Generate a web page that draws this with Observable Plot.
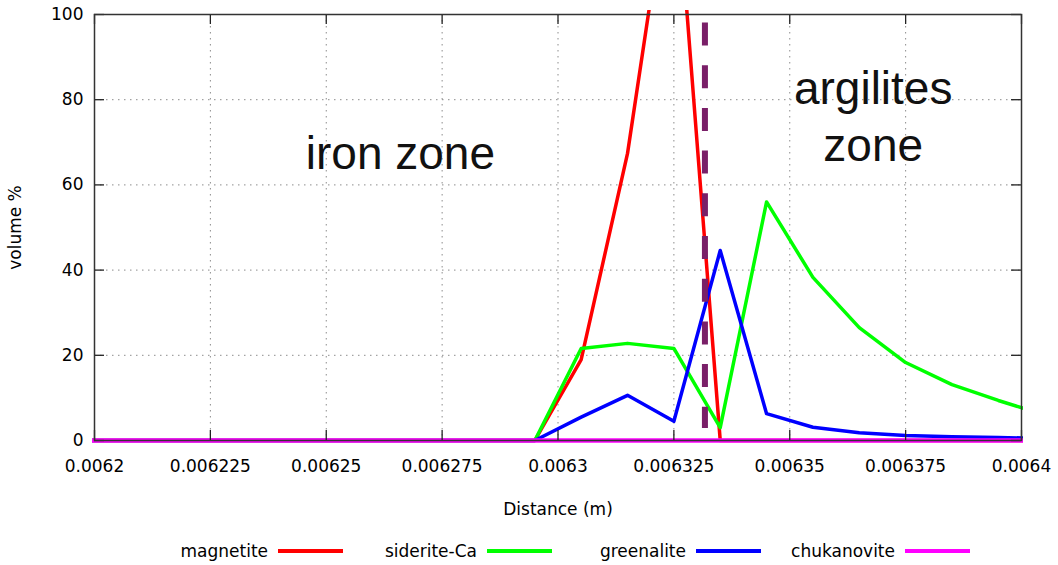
<!DOCTYPE html>
<html><head><meta charset="utf-8">
<script src="https://cdn.jsdelivr.net/npm/d3@7"></script>
<script src="https://cdn.jsdelivr.net/npm/@observablehq/plot@0.6"></script>
<style>
body{margin:0;background:#fff;font-family:"DejaVu Sans",sans-serif;}
#chart svg{display:block}
#legend{position:relative;height:35px;width:1058px;font-size:17px;color:#000}
.entry{position:absolute;top:10px;height:22px;display:flex;align-items:center}
.entry .lab{width:134px;text-align:right;white-space:nowrap}
.entry .swatch{width:65px;height:4px;margin-left:10px}
</style></head><body>
<div id="chart"></div>
<div id="legend"></div>
<script>
// Data
const distance = [0.006195,0.006205,0.006215,0.006225,0.006235,0.006245,0.006255,0.006265,0.006275,0.006285,
                  0.006295,0.006305,0.006315,0.006325,0.006335,0.006345,0.006355,0.006365,0.006375,0.006385,0.006395,0.006405];
const magnetite   = [0,0,0,0,0,0,0,0,0,0, 0,19,67.4,140,0,0,0,0,0,0,0,0];
const sideriteCa  = [0,0,0,0,0,0,0,0,0,0, 0,21.6,22.8,21.6,3,56,38.3,26.5,18.3,13.1,9.4,6.0];
const greenalite  = [0,0,0,0,0,0,0,0,0,0, 0,5.5,10.6,4.5,44.6,6.3,3.1,1.8,1.2,0.9,0.7,0.5];
const chukanovite = [0,0,0,0,0,0,0,0,0,0, 0,0,0,0,0,0,0,0,0,0,0,0];

const seriesNames  = ["magnetite","siderite-Ca","greenalite","chukanovite"];
const seriesColors = ["#ff0000","#00ff00","#0000ff","#ff00ff"];
const seriesWidths = [3.5, 3.5, 3.5, 4.5];
const seriesValues = [magnetite, sideriteCa, greenalite, chukanovite];

const xTicks = [0.0062,0.006225,0.00625,0.006275,0.0063,0.006325,0.00635,0.006375,0.0064];
const xTickLabels = ["0.0062","0.006225","0.00625","0.006275","0.0063","0.006325","0.00635","0.006375","0.0064"];
const yTicks = [0,20,40,60,80,100];
const xDomain = [0.0062, 0.0064];
const yDomain = [0, 100];

const boundaryX = [0.0063317];
const boundaryY = [98, 2.8];

const zoneLabels = [
  {text:"iron zone", x:0.006266, y:68},
  {text:"argilites\nzone", x:0.006368, y:76.5}
];
const xLabel = "Distance (m)";
const yLabel = "volume %";

const W = 1058, H = 530, mL = 94, mR = 37, mT = 14, mB = 90;
const frameW = W - mL - mR, frameH = H - mT - mB;
const tickLen = 10;
const gridStyle = {stroke:"#8c8c8c", strokeOpacity:1, strokeWidth:1, strokeDasharray:"1.5,4.5"};

const lineMarks = seriesNames.map((name, s) => Plot.line(
  distance.map((d, i) => ({distance: d, value: seriesValues[s][i]})),
  {x: "distance", y: "value", stroke: seriesColors[s], strokeWidth: seriesWidths[s], clip: true}
));

const plot = Plot.plot({
  width: W, height: H,
  marginLeft: mL, marginRight: mR, marginTop: mT, marginBottom: mB,
  style: {fontFamily: "DejaVu Sans, sans-serif", fontSize: "17px", color: "#000", background: "#fff"},
  x: {domain: xDomain},
  y: {domain: yDomain},
  marks: [
    Plot.gridX(xTicks.slice(1, -1), gridStyle),
    Plot.gridY(yTicks.slice(1, -1), gridStyle),
    Plot.axisX(xTicks, {tickSize: 0, tickPadding: 19, label: null, tickFormat: d => xTickLabels[xTicks.indexOf(d)]}),
    Plot.axisY(yTicks, {tickSize: 0, tickPadding: 11, label: null}),
    ...lineMarks,
    Plot.ruleX(boundaryX, {x: d => d, y1: () => boundaryY[0], y2: () => boundaryY[1], stroke: "#7a1f68", strokeWidth: 6, strokeDasharray: "23,19.7"}),
    Plot.text(zoneLabels, {x: "x", y: "y", text: "text", fontSize: 46, lineHeight: 1.24, fontFamily: "Liberation Sans, Arial, sans-serif", fill: "#111"}),
    Plot.text([xLabel], {text: d => d, frameAnchor: "bottom", dy: 74, fontSize: 17, textAnchor: "middle"}),
    Plot.text([yLabel], {text: d => d, frameAnchor: "left", dx: -79, rotate: -90, fontSize: 17, textAnchor: "middle"}),
    Plot.tickX(xTicks, {x: d => d, insetTop: frameH - tickLen, stroke: "#222", strokeWidth: 1.3}),
    Plot.tickX(xTicks, {x: d => d, insetBottom: frameH - tickLen, stroke: "#222", strokeWidth: 1.3}),
    Plot.tickY(yTicks, {y: d => d, insetRight: frameW - tickLen, stroke: "#222", strokeWidth: 1.3}),
    Plot.tickY(yTicks, {y: d => d, insetLeft: frameW - tickLen, stroke: "#222", strokeWidth: 1.3}),
    Plot.frame({stroke: "#333", strokeWidth: 1.5})
  ]
});

// let the zero-level chukanovite line show its full width at the bottom edge
plot.querySelectorAll("g[clip-path]").forEach(g => {
  const inner = g.querySelector("[stroke]");
  const col = ((inner && inner.getAttribute("stroke")) || g.getAttribute("stroke") || "").toLowerCase();
  if (col !== "#ff00ff") return;
  const m = g.getAttribute("clip-path").match(/#([^)"']+)/);
  if (!m) return;
  const rect = plot.querySelector("#" + CSS.escape(m[1]) + " rect");
  if (!rect) return;
  rect.setAttribute("x", +rect.getAttribute("x") - 2);
  rect.setAttribute("width", +rect.getAttribute("width") + 4);
  rect.setAttribute("y", +rect.getAttribute("y") - 4);
  rect.setAttribute("height", +rect.getAttribute("height") + 8);
});
document.getElementById("chart").appendChild(plot);

const legend = document.getElementById("legend");
seriesNames.forEach((name, i) => {
  const e = document.createElement("div");
  e.className = "entry";
  e.style.left = (134 + i * 209) + "px";
  e.innerHTML = `<span class="lab">${name}</span><span class="swatch" style="background:${seriesColors[i]}"></span>`;
  legend.appendChild(e);
});
</script>
</body></html>
